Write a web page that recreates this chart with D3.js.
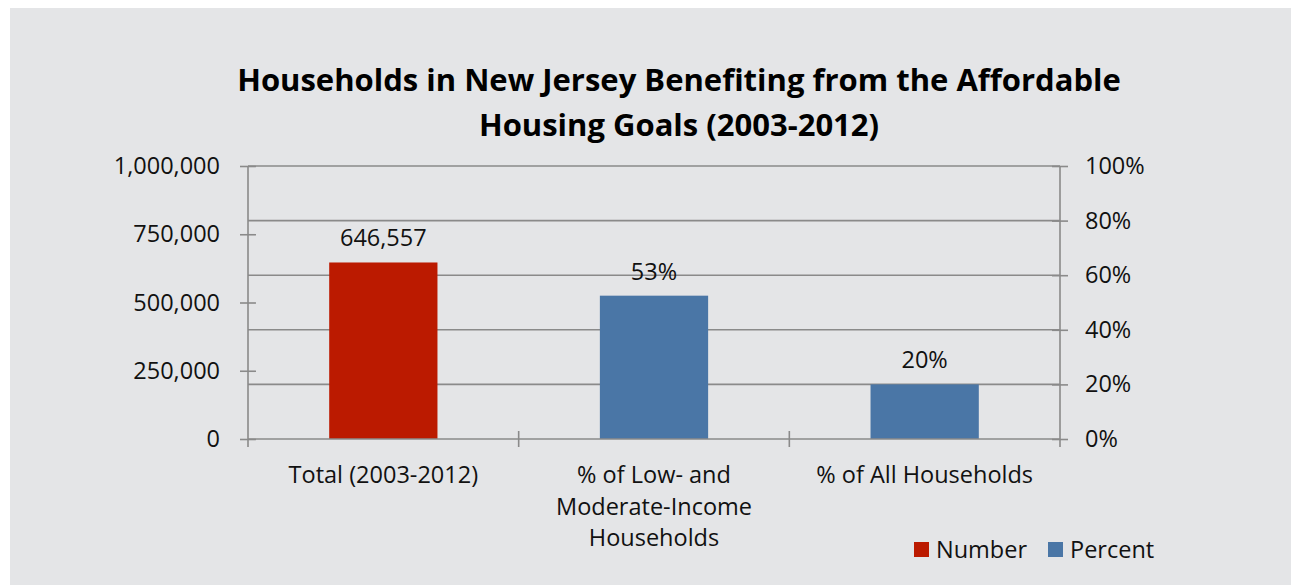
<!doctype html>
<html lang="en">
<head>
  <meta charset="utf-8">
  <title>Households in New Jersey</title>
  <style>
  body { margin: 0; background: #fff; }
  svg { display: block; font-family: "Open Sans", sans-serif; }
  .axis path, .axis line, .grid line { stroke: #8a8a8a; stroke-width: 1.6px; }
  .axis text { fill: #111; font-size: 23.5px; font-family: "Open Sans", sans-serif; }
  .lbl { fill: #111; font-size: 23.5px; }
  </style>
</head>
<body>
  <div id="chart"></div>
  <script src="https://cdnjs.cloudflare.com/ajax/libs/d3/7.8.5/d3.min.js"></script>
  <script>
    var categories = [
      ["Total (2003-2012)"],
      ["% of Low- and", "Moderate-Income", "Households"],
      ["% of All Households"]
    ];
    var series = ["Number", "Percent", "Percent"];
    var values = [646557, 0.525, 0.20];
    var valueLabels = ["646,557", "53%", "20%"];
    var leftTicks = [0, 250000, 500000, 750000, 1000000];
    var rightTicks = [0, 0.2, 0.4, 0.6, 0.8, 1.0];
    var legendItems = ["Number", "Percent"];
    var titleLines = ["Households in New Jersey Benefiting from the Affordable", "Housing Goals (2003-2012)"];

    (function(){
      var width = 1291, height = 585;
      var left = 248, right = 1060, top = 166, bottom = 439;
      var colors = { Number: "#bb1a00", Percent: "#4a76a6" };

      var svg = d3.select("#chart").append("svg")
          .attr("width", width)
          .attr("height", height);

      svg.append("rect")
        .attr("x", 10).attr("y", 8)
        .attr("width", width - 10).attr("height", height - 8)
        .attr("fill", "#e4e5e7");

      // title
      svg.append("text")
        .attr("text-anchor", "middle")
        .attr("font-weight", "bold")
        .attr("font-size", 31)
        .attr("fill", "#000")
        .selectAll("tspan").data(titleLines).enter()
        .append("tspan")
        .attr("x", 679)
        .attr("y", function(d, i) { return 91 + i * 45; })
        .text(function(d) { return d; });

      var x = d3.scaleBand().domain(d3.range(categories.length)).range([left, right]).paddingInner(0).paddingOuter(0);
      var yL = d3.scaleLinear().domain([0, 1000000]).range([bottom, top]);
      var yR = d3.scaleLinear().domain([0, 1]).range([bottom, top]);
      var yFor = function(i) { return series[i] === "Number" ? yL : yR; };

      // gridlines follow the percent axis
      svg.append("g").attr("class", "grid")
        .selectAll("line").data(rightTicks.slice(1)).enter()
        .append("line")
        .attr("x1", left).attr("x2", right)
        .attr("y1", yR).attr("y2", yR);

      // bars
      var bw = x.bandwidth() * 0.4;
      svg.append("g").selectAll("rect").data(values).enter()
        .append("rect")
        .attr("x", function(d, i) { return x(i) + (x.bandwidth() - bw) / 2; })
        .attr("width", bw)
        .attr("y", function(d, i) { return yFor(i)(d); })
        .attr("height", function(d, i) { return bottom - yFor(i)(d); })
        .attr("fill", function(d, i) { return colors[series[i]]; });

      svg.append("g").selectAll("text").data(values).enter()
        .append("text")
        .attr("class", "lbl")
        .attr("text-anchor", "middle")
        .attr("x", function(d, i) { return x(i) + x.bandwidth() / 2; })
        .attr("y", function(d, i) { return yFor(i)(d) - 16; })
        .text(function(d, i) { return valueLabels[i]; });

      // left axis
      var gl = svg.append("g").attr("class", "axis")
        .attr("transform", "translate(" + left + ",0)")
        .call(d3.axisLeft(yL).tickValues(leftTicks).tickSize(8).tickPadding(20).tickFormat(d3.format(",")));
      gl.attr("font-family", null).attr("font-size", null);
      gl.select(".domain").remove();
      gl.selectAll(".tick line").attr("x1", -8).attr("x2", 8);
      gl.append("line").attr("y1", top).attr("y2", bottom + 8);

      // right axis
      var gr = svg.append("g").attr("class", "axis")
        .attr("transform", "translate(" + right + ",0)")
        .call(d3.axisRight(yR).tickValues(rightTicks).tickSize(8).tickPadding(17).tickFormat(d3.format(".0%")));
      gr.attr("font-family", null).attr("font-size", null);
      gr.select(".domain").remove();
      gr.selectAll(".tick line").attr("x1", -8).attr("x2", 8);
      gr.append("line").attr("y1", top).attr("y2", bottom + 8);

      // category axis
      var gx = svg.append("g").attr("class", "axis");
      gx.append("line").attr("x1", left).attr("x2", right).attr("y1", bottom).attr("y2", bottom);
      gx.selectAll("line.sep").data(d3.range(1, categories.length)).enter()
        .append("line").attr("class", "sep")
        .attr("x1", function(i) { return x(i); }).attr("x2", function(i) { return x(i); })
        .attr("y1", bottom - 8).attr("y2", bottom + 8);

      gx.selectAll("text.cat").data(categories).enter()
        .append("text").attr("class", "cat")
        .attr("text-anchor", "middle")
        .each(function(lines, i) {
          d3.select(this).selectAll("tspan").data(lines).enter()
            .append("tspan")
            .attr("x", x(i) + x.bandwidth() / 2)
            .attr("y", function(d, j) { return 483 + j * 31.5; })
            .text(function(d) { return d; });
        });

      // legend
      var lg = svg.append("g").selectAll("g").data(legendItems).enter()
        .append("g")
        .attr("transform", function(d, i) { return "translate(" + (914 + i * 134) + ",542)"; });
      lg.append("rect").attr("width", 15).attr("height", 15)
        .attr("fill", function(d) { return colors[d]; });
      lg.append("text").attr("class", "lbl")
        .attr("x", 22).attr("y", 16)
        .text(function(d) { return d; });
    })();
  </script>
</body>
</html>
